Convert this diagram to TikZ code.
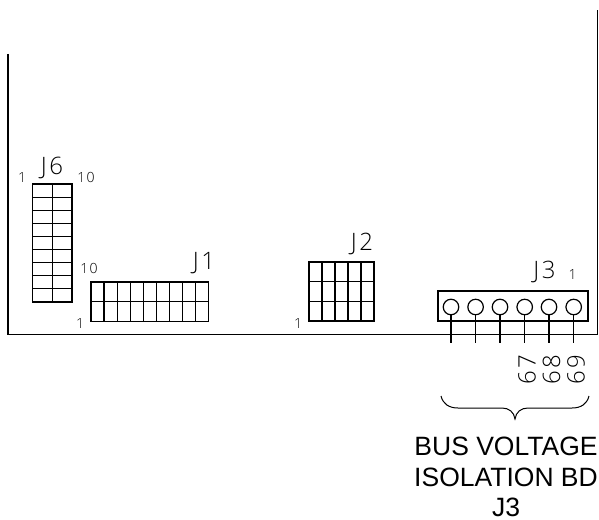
\documentclass[tikz,border=0pt]{standalone}
\usepackage{fontspec}
\setmainfont{Liberation Sans}
\newfontfamily\strokefont[LetterSpace=10]{Open Sans Light}
\tikzset{
  wire/.style={line width=1.2pt},
  pinhole/.style={circle, draw, line width=1.2pt, minimum size=15.5pt, inner sep=0pt},
  bigtag/.style={font=\strokefont\fontsize{24}{24}\selectfont, inner sep=0pt},
  smalltag/.style={font=\strokefont\fontsize{14}{14}\selectfont, inner sep=0pt},
  title/.style={font=\fontsize{26.5}{30.5}\selectfont, inner sep=0pt, align=center}
}
\begin{document}
\begin{tikzpicture}[x=1pt, y=-1pt]
    \useasboundingbox (0, 0) rectangle (599, 519);

    % board outline
    \coordinate (b1) at (8, 54);
    \coordinate (b2) at (8, 334.5);
    \coordinate (b3) at (597.5, 334.5);
    \coordinate (b4) at (597.5, 10);
    \draw[wire] (b1) -- (b2) -- (b3) -- (b4);

    % J6
    \draw[wire] (32.5, 184) rectangle (72, 302);
    \draw[wire] (52.2, 184) -- (52.2, 302);
    \foreach \r in {1,...,8}
        \draw[wire] (32.5, 184 + \r*13.11) -- (72, 184 + \r*13.11);
    \node (j6) at (52, 168) [bigtag] {J6};
    \node (j6a) at (22, 178) [smalltag] {1};
    \node (j6b) at (86, 177) [smalltag] {10};

    % J1
    \draw[wire] (91, 282) rectangle (208.5, 321.5);
    \draw[wire] (91, 301.8) -- (208.5, 301.8);
    \foreach \c in {1,...,8}
        \draw[wire] (91 + \c*13.06, 282) -- (91 + \c*13.06, 321.5);
    \node (j1) at (204, 263) [bigtag] {J1};
    \node (j1a) at (80, 323) [smalltag] {1};
    \node (j1b) at (89, 268) [smalltag] {10};

    % J2
    \draw[wire] (309, 262) rectangle (374, 321);
    \foreach \r in {1,2}
        \draw[wire] (309, 262 + \r*19.67) -- (374, 262 + \r*19.67);
    \foreach \c in {1,...,4}
        \draw[wire] (309 + \c*13, 262) -- (309 + \c*13, 321);
    \node (j2) at (362, 244) [bigtag] {J2};
    \node (j2a) at (298, 323) [smalltag] {1};

    % J3
    \draw[wire] (438, 291) rectangle (588, 321);
    \foreach \c [count=\i] in {451, 475.6, 500, 524.7, 549, 573.7} {
        \node (p\i) at (\c, 307) [pinhole] {};
        \coordinate (q\i) at (\c, 343);
        \draw[wire] (p\i) -- (q\i);
    }
    \node (j3) at (544.5, 272) [bigtag] {J3};
    \node (j3a) at (572.5, 274) [smalltag] {1};

    \node (n67) at (527, 370) [bigtag, rotate=90] {67};
    \node (n68) at (551.5, 370) [bigtag, rotate=90] {68};
    \node (n69) at (576, 370) [bigtag, rotate=90] {69};

    % brace
    \draw[wire, line width=1pt] (441, 396) .. controls (443, 404) and (449, 408) .. (458, 408)
        -- (502, 408) .. controls (509, 408) and (514, 412) .. (515, 419)
        .. controls (516, 412) and (521, 408) .. (528, 408)
        -- (572, 408) .. controls (581, 408) and (587, 404) .. (589, 396);

    \node (bd) at (506, 477) [title] {BUS VOLTAGE\\ISOLATION BD\\J3};
\end{tikzpicture}
\end{document}
